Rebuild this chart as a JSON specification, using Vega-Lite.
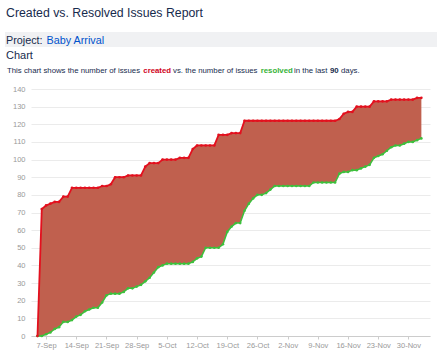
{
  "$schema": "https://vega.github.io/schema/vega-lite/v6.json",
  "width": 399,
  "height": 247,
  "autosize": {"type": "none"},
  "padding": {"left": 31, "top": 89, "right": 7, "bottom": 15},
  "background": "white",
  "config": {"font": "Liberation Sans", "view": {"stroke": null}},
  "datasets": {"issues": [
    {"date": "2014-09-05", "created": 0, "resolved": 0},
    {"date": "2014-09-06", "created": 72, "resolved": 0},
    {"date": "2014-09-07", "created": 74, "resolved": 1},
    {"date": "2014-09-08", "created": 75, "resolved": 2},
    {"date": "2014-09-09", "created": 76, "resolved": 4},
    {"date": "2014-09-10", "created": 76, "resolved": 5},
    {"date": "2014-09-11", "created": 79, "resolved": 8},
    {"date": "2014-09-12", "created": 79, "resolved": 8},
    {"date": "2014-09-13", "created": 84, "resolved": 9},
    {"date": "2014-09-14", "created": 84, "resolved": 11},
    {"date": "2014-09-15", "created": 84, "resolved": 12},
    {"date": "2014-09-16", "created": 84, "resolved": 14},
    {"date": "2014-09-17", "created": 84, "resolved": 15},
    {"date": "2014-09-18", "created": 84, "resolved": 16},
    {"date": "2014-09-19", "created": 84, "resolved": 16},
    {"date": "2014-09-20", "created": 85, "resolved": 19},
    {"date": "2014-09-21", "created": 85, "resolved": 23},
    {"date": "2014-09-22", "created": 86, "resolved": 24},
    {"date": "2014-09-23", "created": 90, "resolved": 24},
    {"date": "2014-09-24", "created": 90, "resolved": 24},
    {"date": "2014-09-25", "created": 90, "resolved": 25},
    {"date": "2014-09-26", "created": 91, "resolved": 27},
    {"date": "2014-09-27", "created": 91, "resolved": 27},
    {"date": "2014-09-28", "created": 91, "resolved": 28},
    {"date": "2014-09-29", "created": 91, "resolved": 29},
    {"date": "2014-09-30", "created": 96, "resolved": 31},
    {"date": "2014-10-01", "created": 98, "resolved": 33},
    {"date": "2014-10-02", "created": 98, "resolved": 36},
    {"date": "2014-10-03", "created": 98, "resolved": 39},
    {"date": "2014-10-04", "created": 100, "resolved": 40},
    {"date": "2014-10-05", "created": 100, "resolved": 41},
    {"date": "2014-10-06", "created": 100, "resolved": 41},
    {"date": "2014-10-07", "created": 100, "resolved": 41},
    {"date": "2014-10-08", "created": 101, "resolved": 41},
    {"date": "2014-10-09", "created": 101, "resolved": 41},
    {"date": "2014-10-10", "created": 101, "resolved": 41},
    {"date": "2014-10-11", "created": 106, "resolved": 42},
    {"date": "2014-10-12", "created": 108, "resolved": 44},
    {"date": "2014-10-13", "created": 108, "resolved": 45},
    {"date": "2014-10-14", "created": 108, "resolved": 50},
    {"date": "2014-10-15", "created": 108, "resolved": 50},
    {"date": "2014-10-16", "created": 108, "resolved": 50},
    {"date": "2014-10-17", "created": 114, "resolved": 50},
    {"date": "2014-10-18", "created": 114, "resolved": 52},
    {"date": "2014-10-19", "created": 114, "resolved": 59},
    {"date": "2014-10-20", "created": 115, "resolved": 62},
    {"date": "2014-10-21", "created": 115, "resolved": 64},
    {"date": "2014-10-22", "created": 115, "resolved": 64},
    {"date": "2014-10-23", "created": 122, "resolved": 71},
    {"date": "2014-10-24", "created": 122, "resolved": 75},
    {"date": "2014-10-25", "created": 122, "resolved": 78},
    {"date": "2014-10-26", "created": 122, "resolved": 80},
    {"date": "2014-10-27", "created": 122, "resolved": 80},
    {"date": "2014-10-28", "created": 122, "resolved": 81},
    {"date": "2014-10-29", "created": 122, "resolved": 83},
    {"date": "2014-10-30", "created": 122, "resolved": 85},
    {"date": "2014-10-31", "created": 122, "resolved": 85},
    {"date": "2014-11-01", "created": 122, "resolved": 85},
    {"date": "2014-11-02", "created": 122, "resolved": 85},
    {"date": "2014-11-03", "created": 122, "resolved": 85},
    {"date": "2014-11-04", "created": 122, "resolved": 85},
    {"date": "2014-11-05", "created": 122, "resolved": 85},
    {"date": "2014-11-06", "created": 122, "resolved": 85},
    {"date": "2014-11-07", "created": 122, "resolved": 85},
    {"date": "2014-11-08", "created": 122, "resolved": 87},
    {"date": "2014-11-09", "created": 122, "resolved": 87},
    {"date": "2014-11-10", "created": 122, "resolved": 87},
    {"date": "2014-11-11", "created": 122, "resolved": 87},
    {"date": "2014-11-12", "created": 122, "resolved": 87},
    {"date": "2014-11-13", "created": 122, "resolved": 87},
    {"date": "2014-11-14", "created": 123, "resolved": 92},
    {"date": "2014-11-15", "created": 126, "resolved": 93},
    {"date": "2014-11-16", "created": 127, "resolved": 93},
    {"date": "2014-11-17", "created": 127, "resolved": 94},
    {"date": "2014-11-18", "created": 130, "resolved": 94},
    {"date": "2014-11-19", "created": 130, "resolved": 95},
    {"date": "2014-11-20", "created": 130, "resolved": 96},
    {"date": "2014-11-21", "created": 130, "resolved": 97},
    {"date": "2014-11-22", "created": 133, "resolved": 101},
    {"date": "2014-11-23", "created": 133, "resolved": 102},
    {"date": "2014-11-24", "created": 133, "resolved": 103},
    {"date": "2014-11-25", "created": 133, "resolved": 105},
    {"date": "2014-11-26", "created": 134, "resolved": 107},
    {"date": "2014-11-27", "created": 134, "resolved": 108},
    {"date": "2014-11-28", "created": 134, "resolved": 108},
    {"date": "2014-11-29", "created": 134, "resolved": 109},
    {"date": "2014-11-30", "created": 134, "resolved": 110},
    {"date": "2014-12-01", "created": 134, "resolved": 110},
    {"date": "2014-12-02", "created": 135, "resolved": 111},
    {"date": "2014-12-03", "created": 135, "resolved": 112}
  ]},
  "layer": [
    {
      "data": {"values": [{}]},
      "mark": {"type": "rect", "color": "#f0f1f3", "x": -26, "x2": 406, "y": -57, "y2": -42},
      "encoding": {}
    },
    {
      "data": {"values": [{}]},
      "mark": {"type": "text", "text": "Created vs. Resolved Issues Report", "x": -25, "y": -72, "align": "left", "baseline": "alphabetic", "fontSize": 12.3, "color": "#172B4D"},
      "encoding": {}
    },
    {
      "data": {"values": [{}]},
      "mark": {"type": "text", "text": "Project:", "x": -25, "y": -45.5, "align": "left", "baseline": "alphabetic", "fontSize": 10.8, "color": "#172B4D"},
      "encoding": {}
    },
    {
      "data": {"values": [{}]},
      "mark": {"type": "text", "text": "Baby Arrival", "x": 15.5, "y": -45.5, "align": "left", "baseline": "alphabetic", "fontSize": 10.8, "color": "#0052CC"},
      "encoding": {}
    },
    {
      "data": {"values": [{}]},
      "mark": {"type": "text", "text": "Chart", "x": -25, "y": -29.7, "align": "left", "baseline": "alphabetic", "fontSize": 11, "color": "#172B4D"},
      "encoding": {}
    },
    {
      "data": {"values": [{}]},
      "mark": {"type": "text", "text": "This chart shows the number of issues", "x": -24, "y": -16, "align": "left", "baseline": "alphabetic", "fontSize": 7.8, "color": "#172B4D"},
      "encoding": {}
    },
    {
      "data": {"values": [{}]},
      "mark": {"type": "text", "text": "created", "x": 112.3, "y": -16, "align": "left", "baseline": "alphabetic", "fontSize": 7.8, "fontWeight": "bold", "color": "#D0021B"},
      "encoding": {}
    },
    {
      "data": {"values": [{}]},
      "mark": {"type": "text", "text": "vs. the number of issues", "x": 142, "y": -16, "align": "left", "baseline": "alphabetic", "fontSize": 7.8, "color": "#172B4D"},
      "encoding": {}
    },
    {
      "data": {"values": [{}]},
      "mark": {"type": "text", "text": "resolved", "x": 229.7, "y": -16, "align": "left", "baseline": "alphabetic", "fontSize": 7.8, "fontWeight": "bold", "color": "#36B236"},
      "encoding": {}
    },
    {
      "data": {"values": [{}]},
      "mark": {"type": "text", "text": "in the last", "x": 263, "y": -16, "align": "left", "baseline": "alphabetic", "fontSize": 7.8, "color": "#172B4D"},
      "encoding": {}
    },
    {
      "data": {"values": [{}]},
      "mark": {"type": "text", "text": "90", "x": 299, "y": -16, "align": "left", "baseline": "alphabetic", "fontSize": 7.8, "fontWeight": "bold", "color": "#172B4D"},
      "encoding": {}
    },
    {
      "data": {"values": [{}]},
      "mark": {"type": "text", "text": "days.", "x": 310, "y": -16, "align": "left", "baseline": "alphabetic", "fontSize": 7.8, "color": "#172B4D"},
      "encoding": {}
    },
    {
      "data": {"name": "issues"},
      "encoding": {
        "x": {
          "field": "date", "type": "temporal", "title": null,
          "scale": {"type": "utc", "domain": [
            {"year": 2014, "month": 9, "date": 3, "hours": 12, "utc": true},
            {"year": 2014, "month": 12, "date": 5, "utc": true}
          ]},
          "axis": {
            "tickCount": {"interval": "week", "step": 1},
            "labelExpr": "utcFormat(datum.value, '%-d-%b')",
            "grid": false,
            "domainColor": "#cccccc",
            "tickColor": "#cccccc",
            "tickSize": 3,
            "labelFontSize": 7.5,
            "labelColor": "#999999",
            "labelPadding": 2,
            "labelFlush": false,
            "labelOverlap": false
          }
        }
      },
      "layer": [
        {
          "mark": {"type": "area", "color": "#C0604E", "opacity": 1},
          "encoding": {
            "y": {
              "field": "created", "type": "quantitative", "title": null,
              "scale": {"domain": [0, 140], "nice": false},
              "axis": {
                "tickCount": 14,
                "domain": false, "ticks": false,
                "gridColor": "#ebebeb",
                "labelFontSize": 7.5,
                "labelColor": "#999999",
                "labelPadding": 6,
                "labelOverlap": false
              }
            },
            "y2": {"field": "resolved"}
          }
        },
        {
          "mark": {"type": "line", "color": "#3CC03C", "strokeWidth": 1.5, "point": {"filled": true, "size": 7, "color": "#3CC03C"}},
          "encoding": {
            "y": {"field": "resolved", "type": "quantitative"}
          }
        },
        {
          "mark": {"type": "line", "color": "#E3101E", "strokeWidth": 1.8, "point": {"filled": true, "size": 7, "color": "#E3101E"}},
          "encoding": {
            "y": {"field": "created", "type": "quantitative"}
          }
        }
      ]
    }
  ]
}
